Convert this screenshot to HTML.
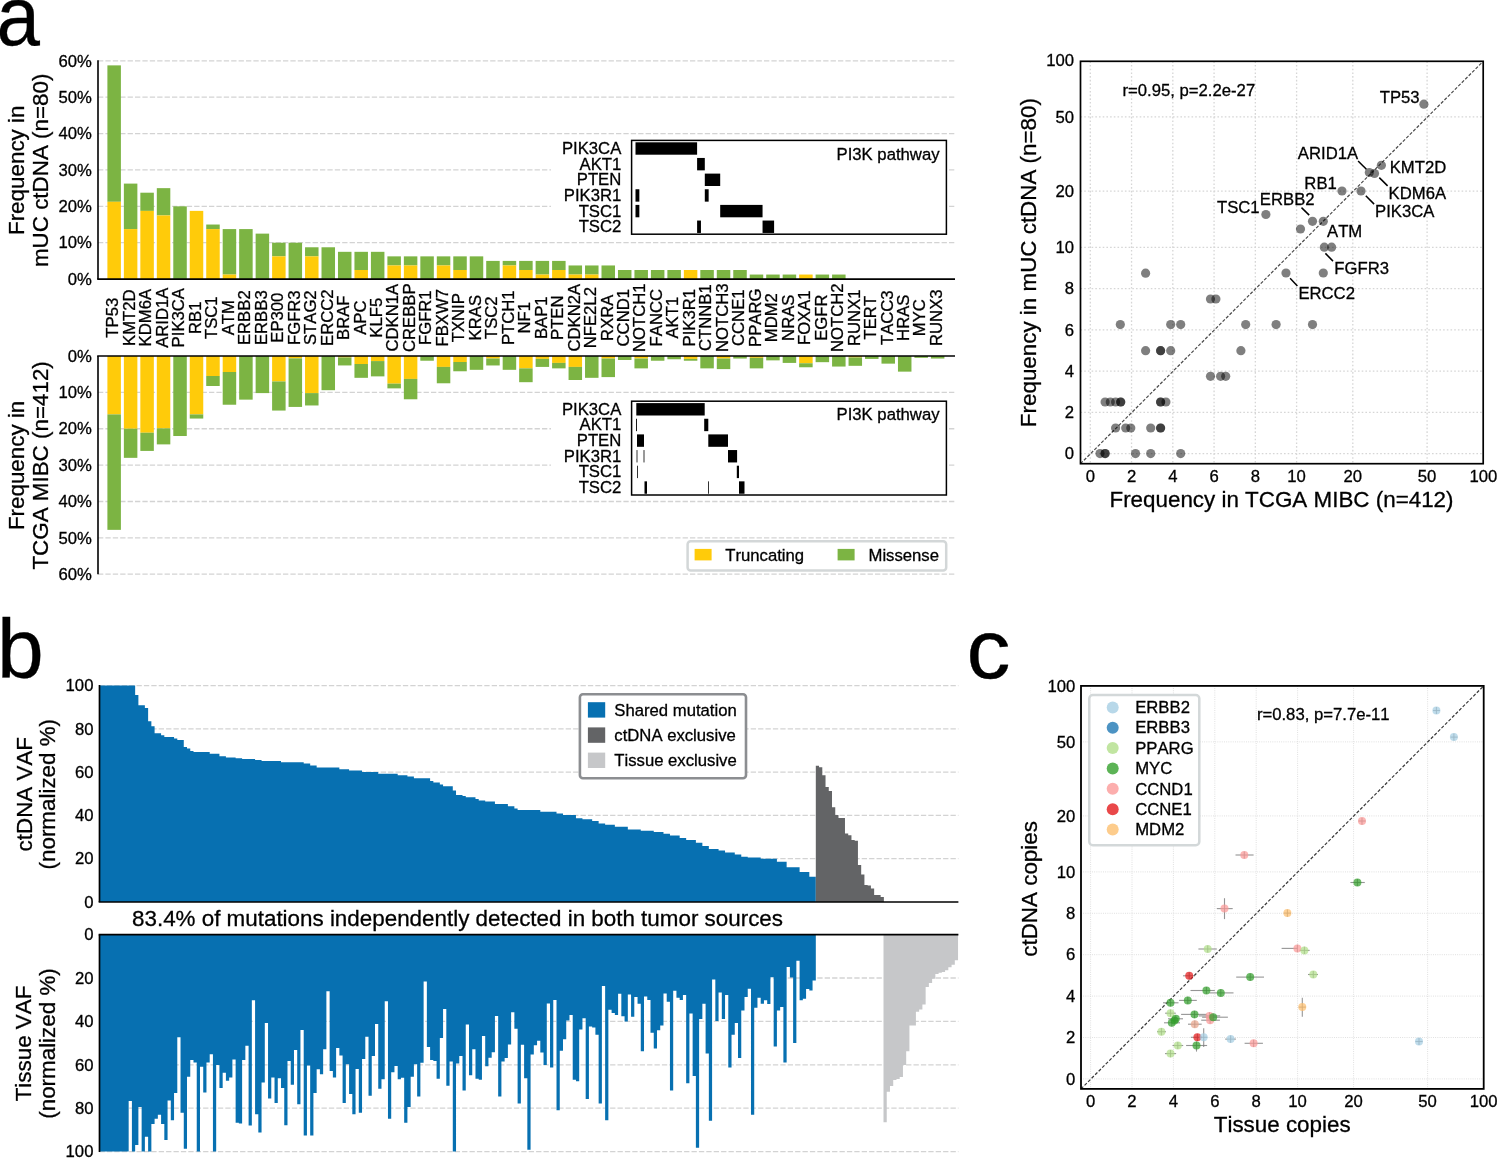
<!DOCTYPE html>
<html><head><meta charset="utf-8"><style>html,body{margin:0;padding:0;background:#fff;overflow:hidden;}svg{display:block;will-change:transform;}text{font-family:"Liberation Sans",sans-serif;font-kerning:none;stroke:#000;stroke-width:0.3px;}</style></head><body>
<svg width="1497" height="1158" viewBox="0 0 1497 1158" font-family='"Liberation Sans", sans-serif'><text transform="translate(-3.6,45) scale(0.93,1)" font-size="84">a</text>
<line x1="98" y1="242.72" x2="955" y2="242.72" stroke="#d3d3d3" stroke-width="1.3" stroke-dasharray="5.3 2.1"/>
<line x1="98" y1="206.34" x2="955" y2="206.34" stroke="#d3d3d3" stroke-width="1.3" stroke-dasharray="5.3 2.1"/>
<line x1="98" y1="169.96" x2="955" y2="169.96" stroke="#d3d3d3" stroke-width="1.3" stroke-dasharray="5.3 2.1"/>
<line x1="98" y1="133.58" x2="955" y2="133.58" stroke="#d3d3d3" stroke-width="1.3" stroke-dasharray="5.3 2.1"/>
<line x1="98" y1="97.2" x2="955" y2="97.2" stroke="#d3d3d3" stroke-width="1.3" stroke-dasharray="5.3 2.1"/>
<line x1="98" y1="60.82" x2="955" y2="60.82" stroke="#d3d3d3" stroke-width="1.3" stroke-dasharray="5.3 2.1"/>
<text x="91.8" y="284.85" font-size="16.7" text-anchor="end" fill="#000">0%</text>
<text x="91.8" y="248.47" font-size="16.7" text-anchor="end" fill="#000">10%</text>
<text x="91.8" y="212.09" font-size="16.7" text-anchor="end" fill="#000">20%</text>
<text x="91.8" y="175.71" font-size="16.7" text-anchor="end" fill="#000">30%</text>
<text x="91.8" y="139.33" font-size="16.7" text-anchor="end" fill="#000">40%</text>
<text x="91.8" y="102.95" font-size="16.7" text-anchor="end" fill="#000">50%</text>
<text x="91.8" y="66.57" font-size="16.7" text-anchor="end" fill="#000">60%</text>
<rect x="107.4" y="65.37" width="13.5" height="136.43" fill="#7cb443"/>
<rect x="107.4" y="201.79" width="13.5" height="77.31" fill="#ffcb0a"/>
<rect x="123.87" y="183.6" width="13.5" height="45.48" fill="#7cb443"/>
<rect x="123.87" y="229.08" width="13.5" height="50.02" fill="#ffcb0a"/>
<rect x="140.34" y="192.7" width="13.5" height="18.19" fill="#7cb443"/>
<rect x="140.34" y="210.89" width="13.5" height="68.21" fill="#ffcb0a"/>
<rect x="156.81" y="188.15" width="13.5" height="27.28" fill="#7cb443"/>
<rect x="156.81" y="215.44" width="13.5" height="63.67" fill="#ffcb0a"/>
<rect x="173.28" y="206.34" width="13.5" height="72.76" fill="#7cb443"/>
<rect x="189.75" y="210.89" width="13.5" height="68.21" fill="#ffcb0a"/>
<rect x="206.22" y="224.53" width="13.5" height="4.55" fill="#7cb443"/>
<rect x="206.22" y="229.08" width="13.5" height="50.02" fill="#ffcb0a"/>
<rect x="222.69" y="229.08" width="13.5" height="45.48" fill="#7cb443"/>
<rect x="222.69" y="274.55" width="13.5" height="4.55" fill="#ffcb0a"/>
<rect x="239.16" y="229.08" width="13.5" height="50.02" fill="#7cb443"/>
<rect x="255.63" y="233.63" width="13.5" height="45.48" fill="#7cb443"/>
<rect x="272.1" y="242.72" width="13.5" height="13.64" fill="#7cb443"/>
<rect x="272.1" y="256.36" width="13.5" height="22.74" fill="#ffcb0a"/>
<rect x="288.57" y="242.72" width="13.5" height="36.38" fill="#7cb443"/>
<rect x="305.04" y="247.27" width="13.5" height="9.1" fill="#7cb443"/>
<rect x="305.04" y="256.36" width="13.5" height="22.74" fill="#ffcb0a"/>
<rect x="321.51" y="247.27" width="13.5" height="31.83" fill="#7cb443"/>
<rect x="337.98" y="251.82" width="13.5" height="27.29" fill="#7cb443"/>
<rect x="354.45" y="251.82" width="13.5" height="18.19" fill="#7cb443"/>
<rect x="354.45" y="270" width="13.5" height="9.1" fill="#ffcb0a"/>
<rect x="370.92" y="251.82" width="13.5" height="27.29" fill="#7cb443"/>
<rect x="387.39" y="256.36" width="13.5" height="9.09" fill="#7cb443"/>
<rect x="387.39" y="265.46" width="13.5" height="13.64" fill="#ffcb0a"/>
<rect x="403.86" y="256.36" width="13.5" height="9.09" fill="#7cb443"/>
<rect x="403.86" y="265.46" width="13.5" height="13.64" fill="#ffcb0a"/>
<rect x="420.33" y="256.36" width="13.5" height="22.74" fill="#7cb443"/>
<rect x="436.8" y="256.36" width="13.5" height="9.09" fill="#7cb443"/>
<rect x="436.8" y="265.46" width="13.5" height="13.64" fill="#ffcb0a"/>
<rect x="453.27" y="256.36" width="13.5" height="13.64" fill="#7cb443"/>
<rect x="453.27" y="270" width="13.5" height="9.1" fill="#ffcb0a"/>
<rect x="469.74" y="256.36" width="13.5" height="22.74" fill="#7cb443"/>
<rect x="486.21" y="260.91" width="13.5" height="18.19" fill="#7cb443"/>
<rect x="502.68" y="260.91" width="13.5" height="4.55" fill="#7cb443"/>
<rect x="502.68" y="265.46" width="13.5" height="13.64" fill="#ffcb0a"/>
<rect x="519.15" y="260.91" width="13.5" height="9.1" fill="#7cb443"/>
<rect x="519.15" y="270" width="13.5" height="9.1" fill="#ffcb0a"/>
<rect x="535.62" y="260.91" width="13.5" height="13.64" fill="#7cb443"/>
<rect x="535.62" y="274.55" width="13.5" height="4.55" fill="#ffcb0a"/>
<rect x="552.09" y="260.91" width="13.5" height="9.1" fill="#7cb443"/>
<rect x="552.09" y="270" width="13.5" height="9.1" fill="#ffcb0a"/>
<rect x="568.56" y="265.46" width="13.5" height="9.1" fill="#7cb443"/>
<rect x="568.56" y="274.55" width="13.5" height="4.55" fill="#ffcb0a"/>
<rect x="585.03" y="265.46" width="13.5" height="9.1" fill="#7cb443"/>
<rect x="585.03" y="274.55" width="13.5" height="4.55" fill="#ffcb0a"/>
<rect x="601.5" y="265.46" width="13.5" height="13.64" fill="#7cb443"/>
<rect x="617.97" y="270" width="13.5" height="9.1" fill="#7cb443"/>
<rect x="634.44" y="270" width="13.5" height="9.1" fill="#7cb443"/>
<rect x="650.91" y="270" width="13.5" height="9.1" fill="#7cb443"/>
<rect x="667.38" y="270" width="13.5" height="9.1" fill="#7cb443"/>
<rect x="683.85" y="270" width="13.5" height="9.1" fill="#ffcb0a"/>
<rect x="700.32" y="270" width="13.5" height="9.1" fill="#7cb443"/>
<rect x="716.79" y="270" width="13.5" height="9.1" fill="#7cb443"/>
<rect x="733.26" y="270" width="13.5" height="9.1" fill="#7cb443"/>
<rect x="749.73" y="274.55" width="13.5" height="4.55" fill="#7cb443"/>
<rect x="766.2" y="274.55" width="13.5" height="4.55" fill="#7cb443"/>
<rect x="782.67" y="274.55" width="13.5" height="4.55" fill="#7cb443"/>
<rect x="799.14" y="274.55" width="13.5" height="4.55" fill="#ffcb0a"/>
<rect x="815.61" y="274.55" width="13.5" height="4.55" fill="#7cb443"/>
<rect x="832.08" y="274.55" width="13.5" height="4.55" fill="#7cb443"/>
<text transform="translate(23.5,170.3) rotate(-90)" font-size="22.4" text-anchor="middle" fill="#000">Frequency in</text>
<text transform="translate(48.1,170.3) rotate(-90)" font-size="22.4" text-anchor="middle" fill="#000">mUC ctDNA (n=80)</text>
<line x1="98" y1="392.37" x2="955" y2="392.37" stroke="#d3d3d3" stroke-width="1.3" stroke-dasharray="5.3 2.1"/>
<line x1="98" y1="428.74" x2="955" y2="428.74" stroke="#d3d3d3" stroke-width="1.3" stroke-dasharray="5.3 2.1"/>
<line x1="98" y1="465.11" x2="955" y2="465.11" stroke="#d3d3d3" stroke-width="1.3" stroke-dasharray="5.3 2.1"/>
<line x1="98" y1="501.48" x2="955" y2="501.48" stroke="#d3d3d3" stroke-width="1.3" stroke-dasharray="5.3 2.1"/>
<line x1="98" y1="537.85" x2="955" y2="537.85" stroke="#d3d3d3" stroke-width="1.3" stroke-dasharray="5.3 2.1"/>
<line x1="98" y1="574.22" x2="955" y2="574.22" stroke="#d3d3d3" stroke-width="1.3" stroke-dasharray="5.3 2.1"/>
<text x="91.8" y="361.75" font-size="16.7" text-anchor="end" fill="#000">0%</text>
<text x="91.8" y="398.12" font-size="16.7" text-anchor="end" fill="#000">10%</text>
<text x="91.8" y="434.49" font-size="16.7" text-anchor="end" fill="#000">20%</text>
<text x="91.8" y="470.86" font-size="16.7" text-anchor="end" fill="#000">30%</text>
<text x="91.8" y="507.23" font-size="16.7" text-anchor="end" fill="#000">40%</text>
<text x="91.8" y="543.6" font-size="16.7" text-anchor="end" fill="#000">50%</text>
<text x="91.8" y="579.97" font-size="16.7" text-anchor="end" fill="#000">60%</text>
<rect x="107.4" y="356" width="13.5" height="58.41" fill="#ffcb0a"/>
<rect x="107.4" y="414.41" width="13.5" height="115.44" fill="#7cb443"/>
<rect x="123.87" y="356" width="13.5" height="72.74" fill="#ffcb0a"/>
<rect x="123.87" y="428.74" width="13.5" height="29.1" fill="#7cb443"/>
<rect x="140.34" y="356" width="13.5" height="76.74" fill="#ffcb0a"/>
<rect x="140.34" y="432.74" width="13.5" height="18.18" fill="#7cb443"/>
<rect x="156.81" y="356" width="13.5" height="72.38" fill="#ffcb0a"/>
<rect x="156.81" y="428.38" width="13.5" height="16" fill="#7cb443"/>
<rect x="173.28" y="356" width="13.5" height="80.01" fill="#7cb443"/>
<rect x="189.75" y="356" width="13.5" height="58.41" fill="#ffcb0a"/>
<rect x="189.75" y="414.41" width="13.5" height="4.15" fill="#7cb443"/>
<rect x="206.22" y="356" width="13.5" height="20" fill="#ffcb0a"/>
<rect x="206.22" y="376" width="13.5" height="10" fill="#7cb443"/>
<rect x="222.69" y="356" width="13.5" height="16" fill="#ffcb0a"/>
<rect x="222.69" y="372" width="13.5" height="32.73" fill="#7cb443"/>
<rect x="239.16" y="356" width="13.5" height="43.64" fill="#7cb443"/>
<rect x="255.63" y="356" width="13.5" height="37.1" fill="#7cb443"/>
<rect x="272.1" y="356" width="13.5" height="25.46" fill="#ffcb0a"/>
<rect x="272.1" y="381.46" width="13.5" height="29.1" fill="#7cb443"/>
<rect x="288.57" y="356" width="13.5" height="2.4" fill="#ffcb0a"/>
<rect x="288.57" y="358.4" width="13.5" height="48.52" fill="#7cb443"/>
<rect x="305.04" y="356" width="13.5" height="37.1" fill="#ffcb0a"/>
<rect x="305.04" y="393.1" width="13.5" height="12.37" fill="#7cb443"/>
<rect x="321.51" y="356" width="13.5" height="34.19" fill="#7cb443"/>
<rect x="337.98" y="356" width="13.5" height="1.45" fill="#ffcb0a"/>
<rect x="337.98" y="357.45" width="13.5" height="8" fill="#7cb443"/>
<rect x="354.45" y="356" width="13.5" height="8" fill="#ffcb0a"/>
<rect x="354.45" y="364" width="13.5" height="13.82" fill="#7cb443"/>
<rect x="370.92" y="356" width="13.5" height="5.09" fill="#ffcb0a"/>
<rect x="370.92" y="361.09" width="13.5" height="15.28" fill="#7cb443"/>
<rect x="387.39" y="356" width="13.5" height="27.64" fill="#ffcb0a"/>
<rect x="387.39" y="383.64" width="13.5" height="4.73" fill="#7cb443"/>
<rect x="403.86" y="356" width="13.5" height="22.91" fill="#ffcb0a"/>
<rect x="403.86" y="378.91" width="13.5" height="20.37" fill="#7cb443"/>
<rect x="420.33" y="356" width="13.5" height="4.73" fill="#7cb443"/>
<rect x="436.8" y="356" width="13.5" height="10.91" fill="#ffcb0a"/>
<rect x="436.8" y="366.91" width="13.5" height="16.37" fill="#7cb443"/>
<rect x="453.27" y="356" width="13.5" height="6" fill="#ffcb0a"/>
<rect x="453.27" y="362" width="13.5" height="9.27" fill="#7cb443"/>
<rect x="469.74" y="356" width="13.5" height="13.82" fill="#7cb443"/>
<rect x="486.21" y="356" width="13.5" height="2.55" fill="#ffcb0a"/>
<rect x="486.21" y="358.55" width="13.5" height="6.91" fill="#7cb443"/>
<rect x="502.68" y="356" width="13.5" height="13.82" fill="#7cb443"/>
<rect x="519.15" y="356" width="13.5" height="12.37" fill="#ffcb0a"/>
<rect x="519.15" y="368.37" width="13.5" height="13.82" fill="#7cb443"/>
<rect x="535.62" y="356" width="13.5" height="2.91" fill="#ffcb0a"/>
<rect x="535.62" y="358.91" width="13.5" height="8" fill="#7cb443"/>
<rect x="552.09" y="356" width="13.5" height="6.91" fill="#ffcb0a"/>
<rect x="552.09" y="362.91" width="13.5" height="5.46" fill="#7cb443"/>
<rect x="568.56" y="356" width="13.5" height="10.91" fill="#ffcb0a"/>
<rect x="568.56" y="366.91" width="13.5" height="13.09" fill="#7cb443"/>
<rect x="585.03" y="356" width="13.5" height="21.82" fill="#7cb443"/>
<rect x="601.5" y="356" width="13.5" height="2.55" fill="#ffcb0a"/>
<rect x="601.5" y="358.55" width="13.5" height="18.55" fill="#7cb443"/>
<rect x="617.97" y="356" width="13.5" height="4" fill="#7cb443"/>
<rect x="634.44" y="356" width="13.5" height="2.55" fill="#ffcb0a"/>
<rect x="634.44" y="358.55" width="13.5" height="9.82" fill="#7cb443"/>
<rect x="650.91" y="356" width="13.5" height="4.73" fill="#7cb443"/>
<rect x="667.38" y="356" width="13.5" height="3.27" fill="#7cb443"/>
<rect x="683.85" y="356" width="13.5" height="2.91" fill="#ffcb0a"/>
<rect x="683.85" y="358.91" width="13.5" height="1.82" fill="#7cb443"/>
<rect x="700.32" y="356" width="13.5" height="12.37" fill="#7cb443"/>
<rect x="716.79" y="356" width="13.5" height="2.55" fill="#ffcb0a"/>
<rect x="716.79" y="358.55" width="13.5" height="10.55" fill="#7cb443"/>
<rect x="733.26" y="356" width="13.5" height="2.55" fill="#7cb443"/>
<rect x="749.73" y="356" width="13.5" height="1.82" fill="#ffcb0a"/>
<rect x="749.73" y="357.82" width="13.5" height="10.55" fill="#7cb443"/>
<rect x="766.2" y="356" width="13.5" height="4.36" fill="#7cb443"/>
<rect x="782.67" y="356" width="13.5" height="6.91" fill="#7cb443"/>
<rect x="799.14" y="356" width="13.5" height="7.27" fill="#ffcb0a"/>
<rect x="799.14" y="363.27" width="13.5" height="4" fill="#7cb443"/>
<rect x="815.61" y="356" width="13.5" height="6.18" fill="#7cb443"/>
<rect x="832.08" y="356" width="13.5" height="10.55" fill="#7cb443"/>
<rect x="848.55" y="356" width="13.5" height="1.45" fill="#ffcb0a"/>
<rect x="848.55" y="357.45" width="13.5" height="8.37" fill="#7cb443"/>
<rect x="865.02" y="356" width="13.5" height="2.91" fill="#7cb443"/>
<rect x="881.49" y="356" width="13.5" height="7.64" fill="#7cb443"/>
<rect x="897.96" y="356" width="13.5" height="15.64" fill="#7cb443"/>
<rect x="914.43" y="356" width="13.5" height="1.82" fill="#7cb443"/>
<rect x="930.9" y="356" width="13.5" height="2.55" fill="#7cb443"/>
<text transform="translate(23.6,465.4) rotate(-90)" font-size="22.4" text-anchor="middle" fill="#000">Frequency in</text>
<text transform="translate(48,465.4) rotate(-90)" font-size="22.4" text-anchor="middle" fill="#000">TCGA MIBC (n=412)</text>
<line x1="98" y1="60.3" x2="98" y2="279.1" stroke="#000" stroke-width="1.6"/>
<line x1="97.2" y1="279.1" x2="955" y2="279.1" stroke="#000" stroke-width="1.6"/>
<line x1="98" y1="356" x2="98" y2="574.22" stroke="#000" stroke-width="1.6"/>
<line x1="97.2" y1="356" x2="955" y2="356" stroke="#000" stroke-width="1.6"/>
<text transform="translate(118.45,317.7) rotate(-90)" font-size="16.7" text-anchor="middle" fill="#000">TP53</text>
<text transform="translate(134.92,317.7) rotate(-90)" font-size="16.7" text-anchor="middle" fill="#000">KMT2D</text>
<text transform="translate(151.39,317.7) rotate(-90)" font-size="16.7" text-anchor="middle" fill="#000">KDM6A</text>
<text transform="translate(167.86,317.7) rotate(-90)" font-size="16.7" text-anchor="middle" fill="#000">ARID1A</text>
<text transform="translate(184.33,317.7) rotate(-90)" font-size="16.7" text-anchor="middle" fill="#000">PIK3CA</text>
<text transform="translate(200.8,317.7) rotate(-90)" font-size="16.7" text-anchor="middle" fill="#000">RB1</text>
<text transform="translate(217.27,317.7) rotate(-90)" font-size="16.7" text-anchor="middle" fill="#000">TSC1</text>
<text transform="translate(233.74,317.7) rotate(-90)" font-size="16.7" text-anchor="middle" fill="#000">ATM</text>
<text transform="translate(250.21,317.7) rotate(-90)" font-size="16.7" text-anchor="middle" fill="#000">ERBB2</text>
<text transform="translate(266.68,317.7) rotate(-90)" font-size="16.7" text-anchor="middle" fill="#000">ERBB3</text>
<text transform="translate(283.15,317.7) rotate(-90)" font-size="16.7" text-anchor="middle" fill="#000">EP300</text>
<text transform="translate(299.62,317.7) rotate(-90)" font-size="16.7" text-anchor="middle" fill="#000">FGFR3</text>
<text transform="translate(316.09,317.7) rotate(-90)" font-size="16.7" text-anchor="middle" fill="#000">STAG2</text>
<text transform="translate(332.56,317.7) rotate(-90)" font-size="16.7" text-anchor="middle" fill="#000">ERCC2</text>
<text transform="translate(349.03,317.7) rotate(-90)" font-size="16.7" text-anchor="middle" fill="#000">BRAF</text>
<text transform="translate(365.5,317.7) rotate(-90)" font-size="16.7" text-anchor="middle" fill="#000">APC</text>
<text transform="translate(381.97,317.7) rotate(-90)" font-size="16.7" text-anchor="middle" fill="#000">KLF5</text>
<text transform="translate(398.44,317.7) rotate(-90)" font-size="16.7" text-anchor="middle" fill="#000">CDKN1A</text>
<text transform="translate(414.91,317.7) rotate(-90)" font-size="16.7" text-anchor="middle" fill="#000">CREBBP</text>
<text transform="translate(431.38,317.7) rotate(-90)" font-size="16.7" text-anchor="middle" fill="#000">FGFR1</text>
<text transform="translate(447.85,317.7) rotate(-90)" font-size="16.7" text-anchor="middle" fill="#000">FBXW7</text>
<text transform="translate(464.32,317.7) rotate(-90)" font-size="16.7" text-anchor="middle" fill="#000">TXNIP</text>
<text transform="translate(480.79,317.7) rotate(-90)" font-size="16.7" text-anchor="middle" fill="#000">KRAS</text>
<text transform="translate(497.26,317.7) rotate(-90)" font-size="16.7" text-anchor="middle" fill="#000">TSC2</text>
<text transform="translate(513.73,317.7) rotate(-90)" font-size="16.7" text-anchor="middle" fill="#000">PTCH1</text>
<text transform="translate(530.2,317.7) rotate(-90)" font-size="16.7" text-anchor="middle" fill="#000">NF1</text>
<text transform="translate(546.67,317.7) rotate(-90)" font-size="16.7" text-anchor="middle" fill="#000">BAP1</text>
<text transform="translate(563.14,317.7) rotate(-90)" font-size="16.7" text-anchor="middle" fill="#000">PTEN</text>
<text transform="translate(579.61,317.7) rotate(-90)" font-size="16.7" text-anchor="middle" fill="#000">CDKN2A</text>
<text transform="translate(596.08,317.7) rotate(-90)" font-size="16.7" text-anchor="middle" fill="#000">NFE2L2</text>
<text transform="translate(612.55,317.7) rotate(-90)" font-size="16.7" text-anchor="middle" fill="#000">RXRA</text>
<text transform="translate(629.02,317.7) rotate(-90)" font-size="16.7" text-anchor="middle" fill="#000">CCND1</text>
<text transform="translate(645.49,317.7) rotate(-90)" font-size="16.7" text-anchor="middle" fill="#000">NOTCH1</text>
<text transform="translate(661.96,317.7) rotate(-90)" font-size="16.7" text-anchor="middle" fill="#000">FANCC</text>
<text transform="translate(678.43,317.7) rotate(-90)" font-size="16.7" text-anchor="middle" fill="#000">AKT1</text>
<text transform="translate(694.9,317.7) rotate(-90)" font-size="16.7" text-anchor="middle" fill="#000">PIK3R1</text>
<text transform="translate(711.37,317.7) rotate(-90)" font-size="16.7" text-anchor="middle" fill="#000">CTNNB1</text>
<text transform="translate(727.84,317.7) rotate(-90)" font-size="16.7" text-anchor="middle" fill="#000">NOTCH3</text>
<text transform="translate(744.31,317.7) rotate(-90)" font-size="16.7" text-anchor="middle" fill="#000">CCNE1</text>
<text transform="translate(760.78,317.7) rotate(-90)" font-size="16.7" text-anchor="middle" fill="#000">PPARG</text>
<text transform="translate(777.25,317.7) rotate(-90)" font-size="16.7" text-anchor="middle" fill="#000">MDM2</text>
<text transform="translate(793.72,317.7) rotate(-90)" font-size="16.7" text-anchor="middle" fill="#000">NRAS</text>
<text transform="translate(810.19,317.7) rotate(-90)" font-size="16.7" text-anchor="middle" fill="#000">FOXA1</text>
<text transform="translate(826.66,317.7) rotate(-90)" font-size="16.7" text-anchor="middle" fill="#000">EGFR</text>
<text transform="translate(843.13,317.7) rotate(-90)" font-size="16.7" text-anchor="middle" fill="#000">NOTCH2</text>
<text transform="translate(859.6,317.7) rotate(-90)" font-size="16.7" text-anchor="middle" fill="#000">RUNX1</text>
<text transform="translate(876.07,317.7) rotate(-90)" font-size="16.7" text-anchor="middle" fill="#000">TERT</text>
<text transform="translate(892.54,317.7) rotate(-90)" font-size="16.7" text-anchor="middle" fill="#000">TACC3</text>
<text transform="translate(909.01,317.7) rotate(-90)" font-size="16.7" text-anchor="middle" fill="#000">HRAS</text>
<text transform="translate(925.48,317.7) rotate(-90)" font-size="16.7" text-anchor="middle" fill="#000">MYC</text>
<text transform="translate(941.95,317.7) rotate(-90)" font-size="16.7" text-anchor="middle" fill="#000">RUNX3</text>
<rect x="551" y="137.8" width="396" height="101" fill="#fff"/>
<text x="621.3" y="154" font-size="16.7" text-anchor="end" fill="#000">PIK3CA</text>
<text x="621.3" y="169.65" font-size="16.7" text-anchor="end" fill="#000">AKT1</text>
<text x="621.3" y="185.3" font-size="16.7" text-anchor="end" fill="#000">PTEN</text>
<text x="621.3" y="200.95" font-size="16.7" text-anchor="end" fill="#000">PIK3R1</text>
<text x="621.3" y="216.6" font-size="16.7" text-anchor="end" fill="#000">TSC1</text>
<text x="621.3" y="232.25" font-size="16.7" text-anchor="end" fill="#000">TSC2</text>
<rect x="635.5" y="142.3" width="61.6" height="12.4" fill="#000"/>
<rect x="697.1" y="157.95" width="7.7" height="12.4" fill="#000"/>
<rect x="704.8" y="173.6" width="15.4" height="12.4" fill="#000"/>
<rect x="635.5" y="189.25" width="3.85" height="12.4" fill="#000"/>
<rect x="704.8" y="189.25" width="3.85" height="12.4" fill="#000"/>
<rect x="635.5" y="204.9" width="3.85" height="12.4" fill="#000"/>
<rect x="720.2" y="204.9" width="42.35" height="12.4" fill="#000"/>
<rect x="697.1" y="220.55" width="3.85" height="12.4" fill="#000"/>
<rect x="762.55" y="220.55" width="11.55" height="12.4" fill="#000"/>
<rect x="631.6" y="140.4" width="314.8" height="93.8" fill="none" stroke="#000" stroke-width="1.5"/>
<text x="939.5" y="159.5" font-size="16.7" text-anchor="end" fill="#000">PI3K pathway</text>
<rect x="551" y="398.6" width="396" height="101" fill="#fff"/>
<text x="621.3" y="414.8" font-size="16.7" text-anchor="end" fill="#000">PIK3CA</text>
<text x="621.3" y="430.45" font-size="16.7" text-anchor="end" fill="#000">AKT1</text>
<text x="621.3" y="446.1" font-size="16.7" text-anchor="end" fill="#000">PTEN</text>
<text x="621.3" y="461.75" font-size="16.7" text-anchor="end" fill="#000">PIK3R1</text>
<text x="621.3" y="477.4" font-size="16.7" text-anchor="end" fill="#000">TSC1</text>
<text x="621.3" y="493.05" font-size="16.7" text-anchor="end" fill="#000">TSC2</text>
<rect x="636.3" y="403.1" width="68.4" height="12.4" fill="#000"/>
<rect x="636" y="418.75" width="0.9" height="12.4" fill="#000"/>
<rect x="704.2" y="418.75" width="4.1" height="12.4" fill="#000"/>
<rect x="637" y="434.4" width="7" height="12.4" fill="#000"/>
<rect x="708.3" y="434.4" width="19.7" height="12.4" fill="#000"/>
<rect x="636.6" y="450.05" width="0.8" height="12.4" fill="#000"/>
<rect x="643.6" y="450.05" width="0.8" height="12.4" fill="#000"/>
<rect x="728" y="450.05" width="9.1" height="12.4" fill="#000"/>
<rect x="637.2" y="465.7" width="0.8" height="12.4" fill="#000"/>
<rect x="736.8" y="465.7" width="2.2" height="12.4" fill="#000"/>
<rect x="644.5" y="481.35" width="2.5" height="12.4" fill="#000"/>
<rect x="708" y="481.35" width="0.8" height="12.4" fill="#000"/>
<rect x="739" y="481.35" width="5.5" height="12.4" fill="#000"/>
<rect x="631.6" y="401.2" width="314.8" height="93.8" fill="none" stroke="#000" stroke-width="1.5"/>
<text x="939.5" y="420.3" font-size="16.7" text-anchor="end" fill="#000">PI3K pathway</text>
<rect x="687.6" y="541.2" width="258.6" height="29.4" rx="3" fill="#fff" stroke="#d3d7d8" stroke-width="2.5"/>
<rect x="694.6" y="548.9" width="17" height="11.5" fill="#ffcb0a"/>
<text x="725.3" y="560.5" font-size="16.7" text-anchor="start" fill="#000">Truncating</text>
<rect x="837.6" y="548.9" width="17" height="11.5" fill="#7cb443"/>
<text x="868.5" y="560.5" font-size="16.7" text-anchor="start" fill="#000">Missense</text>
<line x1="1090.3" y1="61.3" x2="1090.3" y2="463.7" stroke="#d6d6d6" stroke-width="1.3" stroke-dasharray="1.6 2.1"/>
<line x1="1080.5" y1="453.6" x2="1483.2" y2="453.6" stroke="#d6d6d6" stroke-width="1.3" stroke-dasharray="1.6 2.1"/>
<line x1="1131.56" y1="61.3" x2="1131.56" y2="463.7" stroke="#d6d6d6" stroke-width="1.3" stroke-dasharray="1.6 2.1"/>
<line x1="1080.5" y1="412.34" x2="1483.2" y2="412.34" stroke="#d6d6d6" stroke-width="1.3" stroke-dasharray="1.6 2.1"/>
<line x1="1172.82" y1="61.3" x2="1172.82" y2="463.7" stroke="#d6d6d6" stroke-width="1.3" stroke-dasharray="1.6 2.1"/>
<line x1="1080.5" y1="371.08" x2="1483.2" y2="371.08" stroke="#d6d6d6" stroke-width="1.3" stroke-dasharray="1.6 2.1"/>
<line x1="1214.08" y1="61.3" x2="1214.08" y2="463.7" stroke="#d6d6d6" stroke-width="1.3" stroke-dasharray="1.6 2.1"/>
<line x1="1080.5" y1="329.82" x2="1483.2" y2="329.82" stroke="#d6d6d6" stroke-width="1.3" stroke-dasharray="1.6 2.1"/>
<line x1="1255.34" y1="61.3" x2="1255.34" y2="463.7" stroke="#d6d6d6" stroke-width="1.3" stroke-dasharray="1.6 2.1"/>
<line x1="1080.5" y1="288.56" x2="1483.2" y2="288.56" stroke="#d6d6d6" stroke-width="1.3" stroke-dasharray="1.6 2.1"/>
<line x1="1296.6" y1="61.3" x2="1296.6" y2="463.7" stroke="#d6d6d6" stroke-width="1.3" stroke-dasharray="1.6 2.1"/>
<line x1="1080.5" y1="247.3" x2="1483.2" y2="247.3" stroke="#d6d6d6" stroke-width="1.3" stroke-dasharray="1.6 2.1"/>
<line x1="1352.8" y1="61.3" x2="1352.8" y2="463.7" stroke="#d6d6d6" stroke-width="1.3" stroke-dasharray="1.6 2.1"/>
<line x1="1080.5" y1="191.1" x2="1483.2" y2="191.1" stroke="#d6d6d6" stroke-width="1.3" stroke-dasharray="1.6 2.1"/>
<line x1="1427.1" y1="61.3" x2="1427.1" y2="463.7" stroke="#d6d6d6" stroke-width="1.3" stroke-dasharray="1.6 2.1"/>
<line x1="1080.5" y1="116.8" x2="1483.2" y2="116.8" stroke="#d6d6d6" stroke-width="1.3" stroke-dasharray="1.6 2.1"/>
<line x1="1080.5" y1="463.7" x2="1483.2" y2="61.3" stroke="#4a4a4a" stroke-width="1.2" stroke-dasharray="3.2 1.7"/>
<circle cx="1423.9" cy="104.2" r="4.6" fill="#000" fill-opacity="0.5"/>
<circle cx="1381.4" cy="165.3" r="4.6" fill="#000" fill-opacity="0.5"/>
<circle cx="1369.3" cy="172.5" r="4.6" fill="#000" fill-opacity="0.5"/>
<circle cx="1374.5" cy="173.5" r="4.6" fill="#000" fill-opacity="0.5"/>
<circle cx="1342" cy="191" r="4.6" fill="#000" fill-opacity="0.5"/>
<circle cx="1361" cy="191" r="4.6" fill="#000" fill-opacity="0.5"/>
<circle cx="1265.9" cy="214.5" r="4.6" fill="#000" fill-opacity="0.5"/>
<circle cx="1312.5" cy="221.3" r="4.6" fill="#000" fill-opacity="0.5"/>
<circle cx="1323.3" cy="221.3" r="4.6" fill="#000" fill-opacity="0.5"/>
<circle cx="1300.5" cy="229" r="4.6" fill="#000" fill-opacity="0.5"/>
<circle cx="1324.3" cy="247.2" r="4.6" fill="#000" fill-opacity="0.5"/>
<circle cx="1331.6" cy="247.2" r="4.6" fill="#000" fill-opacity="0.5"/>
<circle cx="1323.3" cy="273" r="4.6" fill="#000" fill-opacity="0.5"/>
<circle cx="1286" cy="273" r="4.6" fill="#000" fill-opacity="0.5"/>
<circle cx="1145.6" cy="273.2" r="4.6" fill="#000" fill-opacity="0.5"/>
<circle cx="1210.5" cy="299" r="4.6" fill="#000" fill-opacity="0.5"/>
<circle cx="1215.9" cy="299" r="4.6" fill="#000" fill-opacity="0.5"/>
<circle cx="1120.3" cy="324.6" r="4.6" fill="#000" fill-opacity="0.5"/>
<circle cx="1170.7" cy="324.6" r="4.6" fill="#000" fill-opacity="0.5"/>
<circle cx="1180.7" cy="324.6" r="4.6" fill="#000" fill-opacity="0.5"/>
<circle cx="1245.7" cy="324.6" r="4.6" fill="#000" fill-opacity="0.5"/>
<circle cx="1276.1" cy="324.6" r="4.6" fill="#000" fill-opacity="0.5"/>
<circle cx="1312.5" cy="324.6" r="4.6" fill="#000" fill-opacity="0.5"/>
<circle cx="1145.6" cy="350.7" r="4.6" fill="#000" fill-opacity="0.5"/>
<circle cx="1160.6" cy="350.7" r="4.6" fill="#000" fill-opacity="0.5"/>
<circle cx="1160.6" cy="350.7" r="4.6" fill="#000" fill-opacity="0.5"/>
<circle cx="1170.7" cy="350.7" r="4.6" fill="#000" fill-opacity="0.5"/>
<circle cx="1240.9" cy="350.7" r="4.6" fill="#000" fill-opacity="0.5"/>
<circle cx="1210.5" cy="376.3" r="4.6" fill="#000" fill-opacity="0.5"/>
<circle cx="1220.6" cy="376.3" r="4.6" fill="#000" fill-opacity="0.5"/>
<circle cx="1225.7" cy="376.3" r="4.6" fill="#000" fill-opacity="0.5"/>
<circle cx="1105.1" cy="402" r="4.6" fill="#000" fill-opacity="0.5"/>
<circle cx="1110.3" cy="402" r="4.6" fill="#000" fill-opacity="0.5"/>
<circle cx="1115.6" cy="402" r="4.6" fill="#000" fill-opacity="0.5"/>
<circle cx="1120.7" cy="402" r="4.6" fill="#000" fill-opacity="0.5"/>
<circle cx="1120.7" cy="402" r="4.6" fill="#000" fill-opacity="0.5"/>
<circle cx="1160.6" cy="402" r="4.6" fill="#000" fill-opacity="0.5"/>
<circle cx="1160.6" cy="402" r="4.6" fill="#000" fill-opacity="0.5"/>
<circle cx="1165.9" cy="402" r="4.6" fill="#000" fill-opacity="0.5"/>
<circle cx="1115.6" cy="428" r="4.6" fill="#000" fill-opacity="0.5"/>
<circle cx="1125.7" cy="428" r="4.6" fill="#000" fill-opacity="0.5"/>
<circle cx="1130.8" cy="428" r="4.6" fill="#000" fill-opacity="0.5"/>
<circle cx="1150.7" cy="428" r="4.6" fill="#000" fill-opacity="0.5"/>
<circle cx="1160.6" cy="428" r="4.6" fill="#000" fill-opacity="0.5"/>
<circle cx="1160.6" cy="428" r="4.6" fill="#000" fill-opacity="0.5"/>
<circle cx="1100" cy="453.6" r="4.6" fill="#000" fill-opacity="0.5"/>
<circle cx="1105.1" cy="453.6" r="4.6" fill="#000" fill-opacity="0.5"/>
<circle cx="1105.1" cy="453.6" r="4.6" fill="#000" fill-opacity="0.5"/>
<circle cx="1135.5" cy="453.6" r="4.6" fill="#000" fill-opacity="0.5"/>
<circle cx="1150.7" cy="453.6" r="4.6" fill="#000" fill-opacity="0.5"/>
<circle cx="1180.7" cy="453.6" r="4.6" fill="#000" fill-opacity="0.5"/>
<text x="1419.6" y="102.5" font-size="16.7" text-anchor="end" fill="#000">TP53</text>
<text x="1389.7" y="173" font-size="16.7" text-anchor="start" fill="#000">KMT2D</text>
<text x="1358.1" y="158.5" font-size="16.7" text-anchor="end" fill="#000">ARID1A</text>
<text x="1388.6" y="198.5" font-size="16.7" text-anchor="start" fill="#000">KDM6A</text>
<text x="1336.8" y="189" font-size="16.7" text-anchor="end" fill="#000">RB1</text>
<text x="1375.1" y="216.5" font-size="16.7" text-anchor="start" fill="#000">PIK3CA</text>
<text x="1259.6" y="213.4" font-size="16.7" text-anchor="end" fill="#000">TSC1</text>
<text x="1314.6" y="205.1" font-size="16.7" text-anchor="end" fill="#000">ERBB2</text>
<text x="1327" y="237.2" font-size="16.7" text-anchor="start" fill="#000">ATM</text>
<text x="1334.3" y="274" font-size="16.7" text-anchor="start" fill="#000">FGFR3</text>
<text x="1298.4" y="299" font-size="16.7" text-anchor="start" fill="#000">ERCC2</text>
<line x1="1358.1" y1="161" x2="1366.4" y2="169.3" stroke="#000" stroke-width="1.5"/>
<line x1="1379.3" y1="177.6" x2="1387.6" y2="185.9" stroke="#000" stroke-width="1.5"/>
<line x1="1365.8" y1="195.8" x2="1374.1" y2="204.1" stroke="#000" stroke-width="1.5"/>
<line x1="1301.5" y1="207.6" x2="1309.2" y2="215.1" stroke="#000" stroke-width="1.5"/>
<line x1="1325.4" y1="253.4" x2="1333" y2="261.1" stroke="#000" stroke-width="1.5"/>
<line x1="1290.1" y1="278.3" x2="1297.4" y2="286" stroke="#000" stroke-width="1.5"/>
<text x="1122.5" y="95.9" font-size="16.7" text-anchor="start" fill="#000">r=0.95, p=2.2e-27</text>
<rect x="1080.5" y="61.3" width="402.7" height="402.4" fill="none" stroke="#000" stroke-width="1.7"/>
<text x="1090.3" y="482.25" font-size="16.7" text-anchor="middle" fill="#000">0</text>
<text x="1074" y="459.35" font-size="16.7" text-anchor="end" fill="#000">0</text>
<text x="1131.56" y="482.25" font-size="16.7" text-anchor="middle" fill="#000">2</text>
<text x="1074" y="418.09" font-size="16.7" text-anchor="end" fill="#000">2</text>
<text x="1172.82" y="482.25" font-size="16.7" text-anchor="middle" fill="#000">4</text>
<text x="1074" y="376.83" font-size="16.7" text-anchor="end" fill="#000">4</text>
<text x="1214.08" y="482.25" font-size="16.7" text-anchor="middle" fill="#000">6</text>
<text x="1074" y="335.57" font-size="16.7" text-anchor="end" fill="#000">6</text>
<text x="1255.34" y="482.25" font-size="16.7" text-anchor="middle" fill="#000">8</text>
<text x="1074" y="294.31" font-size="16.7" text-anchor="end" fill="#000">8</text>
<text x="1296.6" y="482.25" font-size="16.7" text-anchor="middle" fill="#000">10</text>
<text x="1074" y="253.05" font-size="16.7" text-anchor="end" fill="#000">10</text>
<text x="1352.8" y="482.25" font-size="16.7" text-anchor="middle" fill="#000">20</text>
<text x="1074" y="196.85" font-size="16.7" text-anchor="end" fill="#000">20</text>
<text x="1427.1" y="482.25" font-size="16.7" text-anchor="middle" fill="#000">50</text>
<text x="1074" y="122.55" font-size="16.7" text-anchor="end" fill="#000">50</text>
<text x="1483.3" y="482.25" font-size="16.7" text-anchor="middle" fill="#000">100</text>
<text x="1074" y="66.35" font-size="16.7" text-anchor="end" fill="#000">100</text>
<text x="1281.5" y="507" font-size="22.4" text-anchor="middle" fill="#000">Frequency in TCGA MIBC (n=412)</text>
<text transform="translate(1035.7,262.6) rotate(-90)" font-size="22.4" text-anchor="middle" fill="#000">Frequency in mUC ctDNA (n=80)</text>
<text x="-3.1" y="677.7" font-size="84" text-anchor="start" fill="#000">b</text>
<line x1="99.5" y1="858.72" x2="958.4" y2="858.72" stroke="#d3d3d3" stroke-width="1.3" stroke-dasharray="5.3 2.1"/>
<line x1="99.5" y1="815.44" x2="958.4" y2="815.44" stroke="#d3d3d3" stroke-width="1.3" stroke-dasharray="5.3 2.1"/>
<line x1="99.5" y1="772.16" x2="958.4" y2="772.16" stroke="#d3d3d3" stroke-width="1.3" stroke-dasharray="5.3 2.1"/>
<line x1="99.5" y1="728.88" x2="958.4" y2="728.88" stroke="#d3d3d3" stroke-width="1.3" stroke-dasharray="5.3 2.1"/>
<line x1="99.5" y1="685.6" x2="958.4" y2="685.6" stroke="#d3d3d3" stroke-width="1.3" stroke-dasharray="5.3 2.1"/>
<text x="93.45" y="907.75" font-size="16.7" text-anchor="end" fill="#000">0</text>
<text x="93.45" y="864.47" font-size="16.7" text-anchor="end" fill="#000">20</text>
<text x="93.45" y="821.19" font-size="16.7" text-anchor="end" fill="#000">40</text>
<text x="93.45" y="777.91" font-size="16.7" text-anchor="end" fill="#000">60</text>
<text x="93.45" y="734.63" font-size="16.7" text-anchor="end" fill="#000">80</text>
<text x="93.45" y="691.35" font-size="16.7" text-anchor="end" fill="#000">100</text>
<line x1="99.5" y1="978" x2="958.4" y2="978" stroke="#d3d3d3" stroke-width="1.3" stroke-dasharray="5.3 2.1"/>
<line x1="99.5" y1="1021.4" x2="958.4" y2="1021.4" stroke="#d3d3d3" stroke-width="1.3" stroke-dasharray="5.3 2.1"/>
<line x1="99.5" y1="1064.8" x2="958.4" y2="1064.8" stroke="#d3d3d3" stroke-width="1.3" stroke-dasharray="5.3 2.1"/>
<line x1="99.5" y1="1108.2" x2="958.4" y2="1108.2" stroke="#d3d3d3" stroke-width="1.3" stroke-dasharray="5.3 2.1"/>
<line x1="99.5" y1="1151.6" x2="958.4" y2="1151.6" stroke="#d3d3d3" stroke-width="1.3" stroke-dasharray="5.3 2.1"/>
<text x="93.45" y="940.35" font-size="16.7" text-anchor="end" fill="#000">0</text>
<text x="93.45" y="983.75" font-size="16.7" text-anchor="end" fill="#000">20</text>
<text x="93.45" y="1027.15" font-size="16.7" text-anchor="end" fill="#000">40</text>
<text x="93.45" y="1070.55" font-size="16.7" text-anchor="end" fill="#000">60</text>
<text x="93.45" y="1113.95" font-size="16.7" text-anchor="end" fill="#000">80</text>
<text x="93.45" y="1157.35" font-size="16.7" text-anchor="end" fill="#000">100</text>
<path d="M99.5,902 L99.5,685.6 L102.74,685.6 L102.74,685.6 L105.98,685.6 L105.98,685.6 L109.22,685.6 L109.22,685.6 L112.46,685.6 L112.46,685.6 L115.71,685.6 L115.71,685.6 L118.95,685.6 L118.95,685.6 L122.19,685.6 L122.19,685.6 L125.43,685.6 L125.43,685.6 L128.67,685.6 L128.67,685.6 L131.91,685.6 L131.91,685.6 L135.15,685.6 L135.15,694.9 L138.39,694.9 L138.39,705.2 L141.64,705.2 L141.64,705.2 L144.88,705.2 L144.88,708.1 L148.12,708.1 L148.12,721.2 L151.36,721.2 L151.36,726.2 L154.6,726.2 L154.6,733.2 L157.84,733.2 L157.84,733.2 L161.08,733.2 L161.08,735.3 L164.32,735.3 L164.32,736.9 L167.57,736.9 L167.57,736.9 L170.81,736.9 L170.81,736.9 L174.05,736.9 L174.05,738.5 L177.29,738.5 L177.29,740.1 L180.53,740.1 L180.53,740.1 L183.77,740.1 L183.77,746.9 L187.01,746.9 L187.01,748.6 L190.25,748.6 L190.25,751 L193.49,751 L193.49,752.1 L196.74,752.1 L196.74,752.1 L199.98,752.1 L199.98,752.1 L203.22,752.1 L203.22,752.1 L206.46,752.1 L206.46,752.1 L209.7,752.1 L209.7,753.7 L212.94,753.7 L212.94,753.7 L216.18,753.7 L216.18,753.7 L219.42,753.7 L219.42,756.2 L222.67,756.2 L222.67,756.2 L225.91,756.2 L225.91,757.4 L229.15,757.4 L229.15,757.4 L232.39,757.4 L232.39,757.4 L235.63,757.4 L235.63,758.2 L238.87,758.2 L238.87,758.2 L242.11,758.2 L242.11,759 L245.35,759 L245.35,759 L248.6,759 L248.6,759 L251.84,759 L251.84,759 L255.08,759 L255.08,760 L258.32,760 L258.32,760 L261.56,760 L261.56,761 L264.8,761 L264.8,761 L268.04,761 L268.04,761 L271.28,761 L271.28,761 L274.52,761 L274.52,761 L277.77,761 L277.77,761 L281.01,761 L281.01,762.2 L284.25,762.2 L284.25,762.2 L287.49,762.2 L287.49,762.2 L290.73,762.2 L290.73,762.2 L293.97,762.2 L293.97,762.2 L297.21,762.2 L297.21,762.2 L300.45,762.2 L300.45,762.2 L303.7,762.2 L303.7,763.4 L306.94,763.4 L306.94,763.4 L310.18,763.4 L310.18,765.5 L313.42,765.5 L313.42,765.5 L316.66,765.5 L316.66,767.4 L319.9,767.4 L319.9,767.4 L323.14,767.4 L323.14,767.4 L326.38,767.4 L326.38,767.4 L329.63,767.4 L329.63,767.4 L332.87,767.4 L332.87,767.4 L336.11,767.4 L336.11,767.6 L339.35,767.6 L339.35,769.3 L342.59,769.3 L342.59,769.3 L345.83,769.3 L345.83,769.3 L349.07,769.3 L349.07,770.5 L352.31,770.5 L352.31,770.5 L355.55,770.5 L355.55,770.5 L358.8,770.5 L358.8,770.5 L362.04,770.5 L362.04,772.1 L365.28,772.1 L365.28,772.1 L368.52,772.1 L368.52,772.1 L371.76,772.1 L371.76,772.1 L375,772.1 L375,772.1 L378.24,772.1 L378.24,773.7 L381.48,773.7 L381.48,773.7 L384.73,773.7 L384.73,773.7 L387.97,773.7 L387.97,773.7 L391.21,773.7 L391.21,773.7 L394.45,773.7 L394.45,773.7 L397.69,773.7 L397.69,775.3 L400.93,775.3 L400.93,775.3 L404.17,775.3 L404.17,775.3 L407.41,775.3 L407.41,776.6 L410.66,776.6 L410.66,776.6 L413.9,776.6 L413.9,778.2 L417.14,778.2 L417.14,778.2 L420.38,778.2 L420.38,778.2 L423.62,778.2 L423.62,778.2 L426.86,778.2 L426.86,778.2 L430.1,778.2 L430.1,780.9 L433.34,780.9 L433.34,782.5 L436.58,782.5 L436.58,782.5 L439.83,782.5 L439.83,784.6 L443.07,784.6 L443.07,786.2 L446.31,786.2 L446.31,786.2 L449.55,786.2 L449.55,786.2 L452.79,786.2 L452.79,790.5 L456.03,790.5 L456.03,795 L459.27,795 L459.27,795 L462.51,795 L462.51,796.1 L465.76,796.1 L465.76,797.2 L469,797.2 L469,797.2 L472.24,797.2 L472.24,797.2 L475.48,797.2 L475.48,799 L478.72,799 L478.72,800.6 L481.96,800.6 L481.96,800.6 L485.2,800.6 L485.2,801.4 L488.44,801.4 L488.44,801.4 L491.69,801.4 L491.69,801.4 L494.93,801.4 L494.93,804.1 L498.17,804.1 L498.17,804.1 L501.41,804.1 L501.41,804.1 L504.65,804.1 L504.65,804.1 L507.89,804.1 L507.89,806.2 L511.13,806.2 L511.13,806.2 L514.37,806.2 L514.37,808.6 L517.61,808.6 L517.61,810.1 L520.86,810.1 L520.86,810.1 L524.1,810.1 L524.1,810.1 L527.34,810.1 L527.34,810.1 L530.58,810.1 L530.58,810.1 L533.82,810.1 L533.82,810.1 L537.06,810.1 L537.06,810.1 L540.3,810.1 L540.3,811.7 L543.54,811.7 L543.54,811.7 L546.79,811.7 L546.79,811.7 L550.03,811.7 L550.03,811.7 L553.27,811.7 L553.27,811.7 L556.51,811.7 L556.51,813.4 L559.75,813.4 L559.75,813.4 L562.99,813.4 L562.99,814.9 L566.23,814.9 L566.23,814.9 L569.47,814.9 L569.47,814.9 L572.72,814.9 L572.72,814.9 L575.96,814.9 L575.96,818.3 L579.2,818.3 L579.2,818.3 L582.44,818.3 L582.44,819.2 L585.68,819.2 L585.68,819.2 L588.92,819.2 L588.92,819.2 L592.16,819.2 L592.16,820.9 L595.4,820.9 L595.4,820.9 L598.64,820.9 L598.64,823.4 L601.89,823.4 L601.89,823.4 L605.13,823.4 L605.13,824.8 L608.37,824.8 L608.37,824.8 L611.61,824.8 L611.61,824.8 L614.85,824.8 L614.85,826.8 L618.09,826.8 L618.09,826.8 L621.33,826.8 L621.33,826.8 L624.57,826.8 L624.57,826.8 L627.82,826.8 L627.82,829.4 L631.06,829.4 L631.06,829.4 L634.3,829.4 L634.3,829.4 L637.54,829.4 L637.54,829.4 L640.78,829.4 L640.78,830.8 L644.02,830.8 L644.02,830.8 L647.26,830.8 L647.26,830.8 L650.5,830.8 L650.5,830.8 L653.75,830.8 L653.75,832 L656.99,832 L656.99,832 L660.23,832 L660.23,832 L663.47,832 L663.47,833.7 L666.71,833.7 L666.71,833.7 L669.95,833.7 L669.95,835.4 L673.19,835.4 L673.19,835.4 L676.43,835.4 L676.43,835.4 L679.67,835.4 L679.67,837.9 L682.92,837.9 L682.92,837.9 L686.16,837.9 L686.16,840 L689.4,840 L689.4,840 L692.64,840 L692.64,840 L695.88,840 L695.88,842.7 L699.12,842.7 L699.12,842.7 L702.36,842.7 L702.36,846.1 L705.6,846.1 L705.6,846.1 L708.85,846.1 L708.85,849 L712.09,849 L712.09,849 L715.33,849 L715.33,849 L718.57,849 L718.57,850.4 L721.81,850.4 L721.81,850.4 L725.05,850.4 L725.05,852.4 L728.29,852.4 L728.29,852.4 L731.53,852.4 L731.53,852.4 L734.78,852.4 L734.78,854.6 L738.02,854.6 L738.02,854.6 L741.26,854.6 L741.26,856.7 L744.5,856.7 L744.5,856.7 L747.74,856.7 L747.74,857.5 L750.98,857.5 L750.98,857.5 L754.22,857.5 L754.22,857.5 L757.46,857.5 L757.46,857.5 L760.7,857.5 L760.7,858.7 L763.95,858.7 L763.95,858.7 L767.19,858.7 L767.19,858.7 L770.43,858.7 L770.43,858.7 L773.67,858.7 L773.67,858.7 L776.91,858.7 L776.91,861.8 L780.15,861.8 L780.15,861.8 L783.39,861.8 L783.39,861.8 L786.63,861.8 L786.63,867.2 L789.88,867.2 L789.88,867.2 L793.12,867.2 L793.12,867.2 L796.36,867.2 L796.36,867.2 L799.6,867.2 L799.6,872 L802.84,872 L802.84,872 L806.08,872 L806.08,872 L809.32,872 L809.32,876.8 L812.56,876.8 L812.56,876.8 L815.81,876.8 L815.81,902 Z" fill="#0770b1"/>
<path d="M815.81,902 L815.81,765.7 L819.05,765.7 L819.05,767.3 L822.29,767.3 L822.29,775.3 L825.53,775.3 L825.53,787.1 L828.77,787.1 L828.77,791 L832.01,791 L832.01,807.2 L835.25,807.2 L835.25,815 L838.49,815 L838.49,818.1 L841.73,818.1 L841.73,818.1 L844.98,818.1 L844.98,833.6 L848.22,833.6 L848.22,835.3 L851.46,835.3 L851.46,840.1 L854.7,840.1 L854.7,840.7 L857.94,840.7 L857.94,865.1 L861.18,865.1 L861.18,874.4 L864.42,874.4 L864.42,884.9 L867.66,884.9 L867.66,885.5 L870.91,885.5 L870.91,888.4 L874.15,888.4 L874.15,894.9 L877.39,894.9 L877.39,895.1 L880.63,895.1 L880.63,897.1 L883.87,897.1 L883.87,902 Z" fill="#636466"/>
<path d="M99.5,934.6 L99.5,1151.6 L102.74,1151.6 L102.74,1151.6 L105.98,1151.6 L105.98,1151.6 L109.22,1151.6 L109.22,1151.6 L112.46,1151.6 L112.46,1151.6 L115.71,1151.6 L115.71,1151.6 L118.95,1151.6 L118.95,1151.6 L122.19,1151.6 L122.19,1151.6 L125.43,1151.6 L125.43,1151.6 L128.67,1151.6 L128.67,1101.04 L131.91,1101.04 L131.91,1151.6 L135.15,1151.6 L135.15,1145.09 L138.39,1145.09 L138.39,1106.9 L141.64,1106.9 L141.64,1151.6 L144.88,1151.6 L144.88,1136.84 L148.12,1136.84 L148.12,1151.6 L151.36,1151.6 L151.36,1124.04 L154.6,1124.04 L154.6,1118.83 L157.84,1118.83 L157.84,1114.71 L161.08,1114.71 L161.08,1124.04 L164.32,1124.04 L164.32,1139.88 L167.57,1139.88 L167.57,1100.39 L170.81,1100.39 L170.81,1120.13 L174.05,1120.13 L174.05,1093.01 L177.29,1093.01 L177.29,1037.24 L180.53,1037.24 L180.53,1112.76 L183.77,1112.76 L183.77,1148.78 L187.01,1148.78 L187.01,1076.74 L190.25,1076.74 L190.25,1060.03 L193.49,1060.03 L193.49,1062.41 L196.74,1062.41 L196.74,1151.6 L199.98,1151.6 L199.98,1066.75 L203.22,1066.75 L203.22,1092.58 L206.46,1092.58 L206.46,1062.41 L209.7,1062.41 L209.7,1054.17 L212.94,1054.17 L212.94,1151.6 L216.18,1151.6 L216.18,1065.02 L219.42,1065.02 L219.42,1088.02 L222.67,1088.02 L222.67,1072.83 L225.91,1072.83 L225.91,1080.64 L229.15,1080.64 L229.15,1077.39 L232.39,1077.39 L232.39,1059.38 L235.63,1059.38 L235.63,1122.74 L238.87,1122.74 L238.87,1123.39 L242.11,1123.39 L242.11,1060.03 L245.35,1060.03 L245.35,1045.7 L248.6,1045.7 L248.6,1125.56 L251.84,1125.56 L251.84,1000.35 L255.08,1000.35 L255.08,1114.28 L258.32,1114.28 L258.32,1132.5 L261.56,1132.5 L261.56,1082.59 L264.8,1082.59 L264.8,1022.92 L268.04,1022.92 L268.04,1098.43 L271.28,1098.43 L271.28,1077.39 L274.52,1077.39 L274.52,1102.99 L277.77,1102.99 L277.77,1078.25 L281.01,1078.25 L281.01,1088.02 L284.25,1088.02 L284.25,1125.13 L287.49,1125.13 L287.49,1060.89 L290.73,1060.89 L290.73,1084.76 L293.97,1084.76 L293.97,1050.04 L297.21,1050.04 L297.21,1104.29 L300.45,1104.29 L300.45,1030.08 L303.7,1030.08 L303.7,1135.54 L306.94,1135.54 L306.94,1065.45 L310.18,1065.45 L310.18,1135.54 L313.42,1135.54 L313.42,1093.01 L316.66,1093.01 L316.66,1069.36 L319.9,1069.36 L319.9,1074.13 L323.14,1074.13 L323.14,1049.18 L326.38,1049.18 L326.38,991.24 L329.63,991.24 L329.63,1070.88 L332.87,1070.88 L332.87,1077.39 L336.11,1077.39 L336.11,1048.09 L339.35,1048.09 L339.35,1055.47 L342.59,1055.47 L342.59,1102.99 L345.83,1102.99 L345.83,1064.37 L349.07,1064.37 L349.07,1094.1 L352.31,1094.1 L352.31,1114.28 L355.55,1114.28 L355.55,1068.92 L358.8,1068.92 L358.8,1112.76 L362.04,1112.76 L362.04,1058.94 L365.28,1058.94 L365.28,1036.81 L368.52,1036.81 L368.52,1095.83 L371.76,1095.83 L371.76,1056.12 L375,1056.12 L375,1024 L378.24,1024 L378.24,1088.67 L381.48,1088.67 L381.48,1079.34 L384.73,1079.34 L384.73,1001.22 L387.97,1001.22 L387.97,1118.83 L391.21,1118.83 L391.21,1072.18 L394.45,1072.18 L394.45,1065.88 L397.69,1065.88 L397.69,1079.34 L400.93,1079.34 L400.93,1077.82 L404.17,1077.82 L404.17,1122.74 L407.41,1122.74 L407.41,1106.9 L410.66,1106.9 L410.66,1076.74 L413.9,1076.74 L413.9,1064.37 L417.14,1064.37 L417.14,1096.48 L420.38,1096.48 L420.38,1062.85 L423.62,1062.85 L423.62,981.47 L426.86,981.47 L426.86,1047.01 L430.1,1047.01 L430.1,1060.03 L433.34,1060.03 L433.34,1060.89 L436.58,1060.89 L436.58,1078.69 L439.83,1078.69 L439.83,1037.89 L443.07,1037.89 L443.07,1009.03 L446.31,1009.03 L446.31,1085.63 L449.55,1085.63 L449.55,1061.55 L452.79,1061.55 L452.79,1151.6 L456.03,1151.6 L456.03,1063.5 L459.27,1063.5 L459.27,1056.12 L462.51,1056.12 L462.51,1090.62 L465.76,1090.62 L465.76,1024.44 L469,1024.44 L469,1075.22 L472.24,1075.22 L472.24,1049.18 L475.48,1049.18 L475.48,1078.69 L478.72,1078.69 L478.72,1079.77 L481.96,1079.77 L481.96,1035.94 L485.2,1035.94 L485.2,1066.32 L488.44,1066.32 L488.44,1057.64 L491.69,1057.64 L491.69,1052.21 L494.93,1052.21 L494.93,1015.98 L498.17,1015.98 L498.17,1096.48 L501.41,1096.48 L501.41,1061.55 L504.65,1061.55 L504.65,1058.07 L507.89,1058.07 L507.89,1044.62 L511.13,1044.62 L511.13,1012.29 L514.37,1012.29 L514.37,1028.78 L517.61,1028.78 L517.61,1103.43 L520.86,1103.43 L520.86,1044.84 L524.1,1044.84 L524.1,1078.25 L527.34,1078.25 L527.34,1149.65 L530.58,1149.65 L530.58,1054.38 L533.82,1054.38 L533.82,1045.27 L537.06,1045.27 L537.06,1040.71 L540.3,1040.71 L540.3,1052.43 L543.54,1052.43 L543.54,1065.02 L546.79,1065.02 L546.79,1003.39 L550.03,1003.39 L550.03,1067.4 L553.27,1067.4 L553.27,999.92 L556.51,999.92 L556.51,1110.37 L559.75,1110.37 L559.75,1050.69 L562.99,1050.69 L562.99,1039.19 L566.23,1039.19 L566.23,1020.53 L569.47,1020.53 L569.47,1014.89 L572.72,1014.89 L572.72,1079.77 L575.96,1079.77 L575.96,1081.29 L579.2,1081.29 L579.2,1029.43 L582.44,1029.43 L582.44,1018.14 L585.68,1018.14 L585.68,1099.09 L588.92,1099.09 L588.92,1026.39 L592.16,1026.39 L592.16,1027.48 L595.4,1027.48 L595.4,1034.85 L598.64,1034.85 L598.64,1103.43 L601.89,1103.43 L601.89,986.03 L605.13,986.03 L605.13,1120.13 L608.37,1120.13 L608.37,1009.68 L611.61,1009.68 L611.61,1012.94 L614.85,1012.94 L614.85,1014.89 L618.09,1014.89 L618.09,993.84 L621.33,993.84 L621.33,1016.19 L624.57,1016.19 L624.57,1021.62 L627.82,1021.62 L627.82,994.49 L631.06,994.49 L631.06,1016.63 L634.3,1016.63 L634.3,996.88 L637.54,996.88 L637.54,1003.82 L640.78,1003.82 L640.78,1051.13 L644.02,1051.13 L644.02,996.45 L647.26,996.45 L647.26,999.92 L650.5,999.92 L650.5,1032.68 L653.75,1032.68 L653.75,1048.53 L656.99,1048.53 L656.99,1030.3 L660.23,1030.3 L660.23,1025.52 L663.47,1025.52 L663.47,993.41 L666.71,993.41 L666.71,1001.87 L669.95,1001.87 L669.95,1090.62 L673.19,1090.62 L673.19,990.8 L676.43,990.8 L676.43,997.75 L679.67,997.75 L679.67,999.92 L682.92,999.92 L682.92,994.93 L686.16,994.93 L686.16,1083.24 L689.4,1083.24 L689.4,1013.59 L692.64,1013.59 L692.64,1076.08 L695.88,1076.08 L695.88,1147.69 L699.12,1147.69 L699.12,1019.01 L702.36,1019.01 L702.36,1003.82 L705.6,1003.82 L705.6,1053.52 L708.85,1053.52 L708.85,1120.79 L712.09,1120.79 L712.09,979.52 L715.33,979.52 L715.33,1020.97 L718.57,1020.97 L718.57,992.54 L721.81,992.54 L721.81,1019.01 L725.05,1019.01 L725.05,994.93 L728.29,994.93 L728.29,1067.4 L731.53,1067.4 L731.53,1034.64 L734.78,1034.64 L734.78,1022.92 L738.02,1022.92 L738.02,1058.07 L741.26,1058.07 L741.26,1010.55 L744.5,1010.55 L744.5,996.88 L747.74,996.88 L747.74,988.63 L750.98,988.63 L750.98,1114.71 L754.22,1114.71 L754.22,1007.73 L757.46,1007.73 L757.46,997.75 L760.7,997.75 L760.7,1003.82 L763.95,1003.82 L763.95,1000.35 L767.19,1000.35 L767.19,1004.04 L770.43,1004.04 L770.43,977.13 L773.67,977.13 L773.67,1046.57 L776.91,1046.57 L776.91,1010.55 L780.15,1010.55 L780.15,1007.08 L783.39,1007.08 L783.39,1062.41 L786.63,1062.41 L786.63,966.93 L789.88,966.93 L789.88,977.57 L793.12,977.57 L793.12,1043.1 L796.36,1043.1 L796.36,960.86 L799.6,960.86 L799.6,1000.35 L802.84,1000.35 L802.84,998.83 L806.08,998.83 L806.08,989.07 L809.32,989.07 L809.32,990.59 L812.56,990.59 L812.56,980.6 L815.81,980.6 L815.81,934.6 Z" fill="#0770b1"/>
<path d="M883.5,934.6 L883.5,1122.31 L886.74,1122.31 L886.74,1091.71 L889.98,1091.71 L889.98,1086.07 L893.22,1086.07 L893.22,1079.99 L896.46,1079.99 L896.46,1079.12 L899.71,1079.12 L899.71,1076.95 L902.95,1076.95 L902.95,1065.02 L906.19,1065.02 L906.19,1051.35 L909.43,1051.35 L909.43,1025.52 L912.67,1025.52 L912.67,1025.52 L915.91,1025.52 L915.91,1011.85 L919.15,1011.85 L919.15,1009.47 L922.39,1009.47 L922.39,1004.47 L925.64,1004.47 L925.64,986.9 L928.88,986.9 L928.88,982.99 L932.12,982.99 L932.12,978.87 L935.36,978.87 L935.36,973.88 L938.6,973.88 L938.6,972.79 L941.84,972.79 L941.84,971.92 L945.08,971.92 L945.08,970.19 L948.32,970.19 L948.32,967.15 L951.57,967.15 L951.57,964.76 L954.81,964.76 L954.81,960.21 L958.05,960.21 L958.05,934.6 Z" fill="#c6c7c9"/>
<line x1="99.5" y1="685" x2="99.5" y2="902" stroke="#000" stroke-width="1.7"/>
<line x1="98.65" y1="902" x2="958.4" y2="902" stroke="#000" stroke-width="1.7"/>
<line x1="99.5" y1="934.6" x2="99.5" y2="1152" stroke="#000" stroke-width="1.7"/>
<line x1="98.65" y1="934.6" x2="958.4" y2="934.6" stroke="#000" stroke-width="1.7"/>
<text transform="translate(31.6,794.2) rotate(-90)" font-size="22.4" text-anchor="middle" fill="#000">ctDNA VAF</text>
<text transform="translate(55.3,794.2) rotate(-90)" font-size="22.4" text-anchor="middle" fill="#000">(normalized %)</text>
<text transform="translate(31.4,1043.5) rotate(-90)" font-size="22.4" text-anchor="middle" fill="#000">Tissue VAF</text>
<text transform="translate(55.3,1043.5) rotate(-90)" font-size="22.4" text-anchor="middle" fill="#000">(normalized %)</text>
<text x="457.5" y="926" font-size="22.4" text-anchor="middle" fill="#000">83.4% of mutations independently detected in both tumor sources</text>
<rect x="579.9" y="694.3" width="166.1" height="83.9" rx="3" fill="#fff" stroke="#8c8e91" stroke-width="2.6"/>
<rect x="587.9" y="702.2" width="17.3" height="15.4" fill="#0770b1"/>
<rect x="587.9" y="727.4" width="17.3" height="15.4" fill="#636466"/>
<rect x="587.9" y="752.6" width="17.3" height="15.4" fill="#c6c7c9"/>
<text x="614.3" y="716.3" font-size="16.7" text-anchor="start" fill="#000">Shared mutation</text>
<text x="614.3" y="741.3" font-size="16.7" text-anchor="start" fill="#000">ctDNA exclusive</text>
<text x="614.3" y="766.3" font-size="16.7" text-anchor="start" fill="#000">Tissue exclusive</text>
<text transform="translate(966.4,677.8) scale(1.047,1)" font-size="84">c</text>
<line x1="1090.6" y1="685.9" x2="1090.6" y2="1088.9" stroke="#d9d9d9" stroke-width="0.9" stroke-dasharray="0.9 1.3"/>
<line x1="1081" y1="1078.9" x2="1483.7" y2="1078.9" stroke="#d9d9d9" stroke-width="0.9" stroke-dasharray="0.9 1.3"/>
<line x1="1132" y1="685.9" x2="1132" y2="1088.9" stroke="#d9d9d9" stroke-width="0.9" stroke-dasharray="0.9 1.3"/>
<line x1="1081" y1="1037.5" x2="1483.7" y2="1037.5" stroke="#d9d9d9" stroke-width="0.9" stroke-dasharray="0.9 1.3"/>
<line x1="1173.4" y1="685.9" x2="1173.4" y2="1088.9" stroke="#d9d9d9" stroke-width="0.9" stroke-dasharray="0.9 1.3"/>
<line x1="1081" y1="996.1" x2="1483.7" y2="996.1" stroke="#d9d9d9" stroke-width="0.9" stroke-dasharray="0.9 1.3"/>
<line x1="1214.8" y1="685.9" x2="1214.8" y2="1088.9" stroke="#d9d9d9" stroke-width="0.9" stroke-dasharray="0.9 1.3"/>
<line x1="1081" y1="954.7" x2="1483.7" y2="954.7" stroke="#d9d9d9" stroke-width="0.9" stroke-dasharray="0.9 1.3"/>
<line x1="1256.2" y1="685.9" x2="1256.2" y2="1088.9" stroke="#d9d9d9" stroke-width="0.9" stroke-dasharray="0.9 1.3"/>
<line x1="1081" y1="913.3" x2="1483.7" y2="913.3" stroke="#d9d9d9" stroke-width="0.9" stroke-dasharray="0.9 1.3"/>
<line x1="1297.6" y1="685.9" x2="1297.6" y2="1088.9" stroke="#d9d9d9" stroke-width="0.9" stroke-dasharray="0.9 1.3"/>
<line x1="1081" y1="871.9" x2="1483.7" y2="871.9" stroke="#d9d9d9" stroke-width="0.9" stroke-dasharray="0.9 1.3"/>
<line x1="1353.59" y1="685.9" x2="1353.59" y2="1088.9" stroke="#d9d9d9" stroke-width="0.9" stroke-dasharray="0.9 1.3"/>
<line x1="1081" y1="815.91" x2="1483.7" y2="815.91" stroke="#d9d9d9" stroke-width="0.9" stroke-dasharray="0.9 1.3"/>
<line x1="1427.61" y1="685.9" x2="1427.61" y2="1088.9" stroke="#d9d9d9" stroke-width="0.9" stroke-dasharray="0.9 1.3"/>
<line x1="1081" y1="741.89" x2="1483.7" y2="741.89" stroke="#d9d9d9" stroke-width="0.9" stroke-dasharray="0.9 1.3"/>
<line x1="1081" y1="1088.9" x2="1483.7" y2="685.9" stroke="#3a3a3a" stroke-width="1.2" stroke-dasharray="3.2 1.8"/>
<line x1="1198.4" y1="949" x2="1216.8" y2="949" stroke="#7a7a7a" stroke-width="1.1" stroke-opacity="0.8"/>
<line x1="1207.7" y1="945.4" x2="1207.7" y2="952.6" stroke="#7a7a7a" stroke-width="1.1" stroke-opacity="0.8"/>
<line x1="1281.6" y1="948.4" x2="1297.4" y2="948.4" stroke="#7a7a7a" stroke-width="1.1" stroke-opacity="0.8"/>
<line x1="1297.4" y1="944.8" x2="1297.4" y2="952" stroke="#7a7a7a" stroke-width="1.1" stroke-opacity="0.8"/>
<line x1="1299.6" y1="950.4" x2="1309.6" y2="950.4" stroke="#7a7a7a" stroke-width="1.1" stroke-opacity="0.8"/>
<line x1="1304.4" y1="946.8" x2="1304.4" y2="954" stroke="#7a7a7a" stroke-width="1.1" stroke-opacity="0.8"/>
<line x1="1183" y1="975.8" x2="1195" y2="975.8" stroke="#7a7a7a" stroke-width="1.1" stroke-opacity="0.8"/>
<line x1="1189.2" y1="972.2" x2="1189.2" y2="979.4" stroke="#7a7a7a" stroke-width="1.1" stroke-opacity="0.8"/>
<line x1="1236.2" y1="977.1" x2="1264" y2="977.1" stroke="#7a7a7a" stroke-width="1.1" stroke-opacity="0.8"/>
<line x1="1250.2" y1="973.5" x2="1250.2" y2="980.7" stroke="#7a7a7a" stroke-width="1.1" stroke-opacity="0.8"/>
<line x1="1308" y1="974.5" x2="1318" y2="974.5" stroke="#7a7a7a" stroke-width="1.1" stroke-opacity="0.8"/>
<line x1="1313.3" y1="970.9" x2="1313.3" y2="978.1" stroke="#7a7a7a" stroke-width="1.1" stroke-opacity="0.8"/>
<line x1="1190.5" y1="990.5" x2="1214.8" y2="990.5" stroke="#7a7a7a" stroke-width="1.1" stroke-opacity="0.8"/>
<line x1="1206.4" y1="986.9" x2="1206.4" y2="994.1" stroke="#7a7a7a" stroke-width="1.1" stroke-opacity="0.8"/>
<line x1="1209.5" y1="992.9" x2="1233.5" y2="992.9" stroke="#7a7a7a" stroke-width="1.1" stroke-opacity="0.8"/>
<line x1="1220.8" y1="989.3" x2="1220.8" y2="996.5" stroke="#7a7a7a" stroke-width="1.1" stroke-opacity="0.8"/>
<line x1="1298.7" y1="1007.1" x2="1305.9" y2="1007.1" stroke="#7a7a7a" stroke-width="1.1" stroke-opacity="0.8"/>
<line x1="1302.3" y1="997.7" x2="1302.3" y2="1016.8" stroke="#7a7a7a" stroke-width="1.1" stroke-opacity="0.8"/>
<line x1="1163" y1="1002.8" x2="1178.5" y2="1002.8" stroke="#7a7a7a" stroke-width="1.1" stroke-opacity="0.8"/>
<line x1="1170.5" y1="999.2" x2="1170.5" y2="1006.4" stroke="#7a7a7a" stroke-width="1.1" stroke-opacity="0.8"/>
<line x1="1179.1" y1="1000.4" x2="1196.8" y2="1000.4" stroke="#7a7a7a" stroke-width="1.1" stroke-opacity="0.8"/>
<line x1="1187.8" y1="996.8" x2="1187.8" y2="1004" stroke="#7a7a7a" stroke-width="1.1" stroke-opacity="0.8"/>
<line x1="1165.1" y1="1013.2" x2="1175.8" y2="1013.2" stroke="#7a7a7a" stroke-width="1.1" stroke-opacity="0.8"/>
<line x1="1170.5" y1="1009.6" x2="1170.5" y2="1016.8" stroke="#7a7a7a" stroke-width="1.1" stroke-opacity="0.8"/>
<line x1="1181.1" y1="1014.4" x2="1206.8" y2="1014.4" stroke="#7a7a7a" stroke-width="1.1" stroke-opacity="0.8"/>
<line x1="1194.5" y1="1010.8" x2="1194.5" y2="1018" stroke="#7a7a7a" stroke-width="1.1" stroke-opacity="0.8"/>
<line x1="1198.8" y1="1015.9" x2="1220.2" y2="1015.9" stroke="#7a7a7a" stroke-width="1.1" stroke-opacity="0.8"/>
<line x1="1209.5" y1="1012.3" x2="1209.5" y2="1019.5" stroke="#7a7a7a" stroke-width="1.1" stroke-opacity="0.8"/>
<line x1="1201.2" y1="1020.2" x2="1219.9" y2="1020.2" stroke="#7a7a7a" stroke-width="1.1" stroke-opacity="0.8"/>
<line x1="1210.1" y1="1016.6" x2="1210.1" y2="1023.8" stroke="#7a7a7a" stroke-width="1.1" stroke-opacity="0.8"/>
<line x1="1202.1" y1="1017.2" x2="1227.9" y2="1017.2" stroke="#7a7a7a" stroke-width="1.1" stroke-opacity="0.8"/>
<line x1="1213.2" y1="1013.6" x2="1213.2" y2="1020.8" stroke="#7a7a7a" stroke-width="1.1" stroke-opacity="0.8"/>
<line x1="1168" y1="1018.8" x2="1183" y2="1018.8" stroke="#7a7a7a" stroke-width="1.1" stroke-opacity="0.8"/>
<line x1="1175.8" y1="1015.2" x2="1175.8" y2="1022.4" stroke="#7a7a7a" stroke-width="1.1" stroke-opacity="0.8"/>
<line x1="1164" y1="1022.8" x2="1180" y2="1022.8" stroke="#7a7a7a" stroke-width="1.1" stroke-opacity="0.8"/>
<line x1="1171.8" y1="1019.2" x2="1171.8" y2="1026.4" stroke="#7a7a7a" stroke-width="1.1" stroke-opacity="0.8"/>
<line x1="1170.9" y1="1020.5" x2="1178.1" y2="1020.5" stroke="#7a7a7a" stroke-width="1.1" stroke-opacity="0.8"/>
<line x1="1174.5" y1="1016.9" x2="1174.5" y2="1024.1" stroke="#7a7a7a" stroke-width="1.1" stroke-opacity="0.8"/>
<line x1="1188" y1="1024.2" x2="1201.7" y2="1024.2" stroke="#7a7a7a" stroke-width="1.1" stroke-opacity="0.8"/>
<line x1="1194.8" y1="1020.6" x2="1194.8" y2="1027.8" stroke="#7a7a7a" stroke-width="1.1" stroke-opacity="0.8"/>
<line x1="1157" y1="1031.7" x2="1166" y2="1031.7" stroke="#7a7a7a" stroke-width="1.1" stroke-opacity="0.8"/>
<line x1="1161.4" y1="1028.1" x2="1161.4" y2="1035.3" stroke="#7a7a7a" stroke-width="1.1" stroke-opacity="0.8"/>
<line x1="1190.8" y1="1037.3" x2="1201.5" y2="1037.3" stroke="#7a7a7a" stroke-width="1.1" stroke-opacity="0.8"/>
<line x1="1197.4" y1="1033.7" x2="1197.4" y2="1040.9" stroke="#7a7a7a" stroke-width="1.1" stroke-opacity="0.8"/>
<line x1="1200.1" y1="1037.3" x2="1207.3" y2="1037.3" stroke="#7a7a7a" stroke-width="1.1" stroke-opacity="0.8"/>
<line x1="1203.7" y1="1028.2" x2="1203.7" y2="1046.9" stroke="#7a7a7a" stroke-width="1.1" stroke-opacity="0.8"/>
<line x1="1225.2" y1="1039.1" x2="1235.9" y2="1039.1" stroke="#7a7a7a" stroke-width="1.1" stroke-opacity="0.8"/>
<line x1="1230.6" y1="1035.5" x2="1230.6" y2="1042.7" stroke="#7a7a7a" stroke-width="1.1" stroke-opacity="0.8"/>
<line x1="1244.6" y1="1043.3" x2="1262.9" y2="1043.3" stroke="#7a7a7a" stroke-width="1.1" stroke-opacity="0.8"/>
<line x1="1253.6" y1="1039.7" x2="1253.6" y2="1046.9" stroke="#7a7a7a" stroke-width="1.1" stroke-opacity="0.8"/>
<line x1="1172.5" y1="1045.5" x2="1183.2" y2="1045.5" stroke="#7a7a7a" stroke-width="1.1" stroke-opacity="0.8"/>
<line x1="1177.8" y1="1041.9" x2="1177.8" y2="1049.1" stroke="#7a7a7a" stroke-width="1.1" stroke-opacity="0.8"/>
<line x1="1186.1" y1="1045.5" x2="1207.1" y2="1045.5" stroke="#7a7a7a" stroke-width="1.1" stroke-opacity="0.8"/>
<line x1="1196.5" y1="1041.5" x2="1196.5" y2="1051.6" stroke="#7a7a7a" stroke-width="1.1" stroke-opacity="0.8"/>
<line x1="1165" y1="1053.6" x2="1176.1" y2="1053.6" stroke="#7a7a7a" stroke-width="1.1" stroke-opacity="0.8"/>
<line x1="1170.5" y1="1050" x2="1170.5" y2="1057.2" stroke="#7a7a7a" stroke-width="1.1" stroke-opacity="0.8"/>
<line x1="1433" y1="710.5" x2="1440" y2="710.5" stroke="#7a7a7a" stroke-width="1.1" stroke-opacity="0.8"/>
<line x1="1436.4" y1="707" x2="1436.4" y2="714" stroke="#7a7a7a" stroke-width="1.1" stroke-opacity="0.8"/>
<line x1="1450.5" y1="737.1" x2="1457.5" y2="737.1" stroke="#7a7a7a" stroke-width="1.1" stroke-opacity="0.8"/>
<line x1="1453.9" y1="733.5" x2="1453.9" y2="740.5" stroke="#7a7a7a" stroke-width="1.1" stroke-opacity="0.8"/>
<line x1="1358.4" y1="821" x2="1365.6" y2="821" stroke="#7a7a7a" stroke-width="1.1" stroke-opacity="0.8"/>
<line x1="1362" y1="817.7" x2="1362" y2="824.7" stroke="#7a7a7a" stroke-width="1.1" stroke-opacity="0.8"/>
<line x1="1235.5" y1="855" x2="1253.6" y2="855" stroke="#7a7a7a" stroke-width="1.1" stroke-opacity="0.8"/>
<line x1="1244.3" y1="851.4" x2="1244.3" y2="858.6" stroke="#7a7a7a" stroke-width="1.1" stroke-opacity="0.8"/>
<line x1="1350.4" y1="882.5" x2="1364.8" y2="882.5" stroke="#7a7a7a" stroke-width="1.1" stroke-opacity="0.8"/>
<line x1="1357.4" y1="878.9" x2="1357.4" y2="886.1" stroke="#7a7a7a" stroke-width="1.1" stroke-opacity="0.8"/>
<line x1="1216.8" y1="908.6" x2="1232.7" y2="908.6" stroke="#7a7a7a" stroke-width="1.1" stroke-opacity="0.8"/>
<line x1="1224.5" y1="898.2" x2="1224.5" y2="919.1" stroke="#7a7a7a" stroke-width="1.1" stroke-opacity="0.8"/>
<line x1="1283.8" y1="913.1" x2="1291" y2="913.1" stroke="#7a7a7a" stroke-width="1.1" stroke-opacity="0.8"/>
<line x1="1287.4" y1="909.5" x2="1287.4" y2="916.7" stroke="#7a7a7a" stroke-width="1.1" stroke-opacity="0.8"/>
<line x1="1415.4" y1="1041.5" x2="1422.6" y2="1041.5" stroke="#7a7a7a" stroke-width="1.1" stroke-opacity="0.8"/>
<line x1="1419" y1="1037.9" x2="1419" y2="1045.1" stroke="#7a7a7a" stroke-width="1.1" stroke-opacity="0.8"/>
<circle cx="1207.7" cy="949" r="4" fill="#b2df8a" fill-opacity="0.72"/>
<circle cx="1297.4" cy="948.4" r="4" fill="#fb9a99" fill-opacity="0.72"/>
<circle cx="1304.4" cy="950.4" r="4" fill="#b2df8a" fill-opacity="0.72"/>
<circle cx="1189.2" cy="975.8" r="4" fill="#e31a1c" fill-opacity="0.72"/>
<circle cx="1250.2" cy="977.1" r="4" fill="#33a02c" fill-opacity="0.72"/>
<circle cx="1313.3" cy="974.5" r="4" fill="#b2df8a" fill-opacity="0.72"/>
<circle cx="1206.4" cy="990.5" r="4" fill="#33a02c" fill-opacity="0.72"/>
<circle cx="1220.8" cy="992.9" r="4" fill="#33a02c" fill-opacity="0.72"/>
<circle cx="1302.3" cy="1007.1" r="4" fill="#fdbf6f" fill-opacity="0.72"/>
<circle cx="1170.5" cy="1002.8" r="4" fill="#33a02c" fill-opacity="0.72"/>
<circle cx="1187.8" cy="1000.4" r="4" fill="#33a02c" fill-opacity="0.72"/>
<circle cx="1170.5" cy="1013.2" r="4" fill="#b2df8a" fill-opacity="0.72"/>
<circle cx="1194.5" cy="1014.4" r="4" fill="#33a02c" fill-opacity="0.72"/>
<circle cx="1209.5" cy="1015.9" r="4" fill="#fb9a99" fill-opacity="0.72"/>
<circle cx="1210.1" cy="1020.2" r="4" fill="#fb9a99" fill-opacity="0.72"/>
<circle cx="1213.2" cy="1017.2" r="4" fill="#33a02c" fill-opacity="0.72"/>
<circle cx="1175.8" cy="1018.8" r="4" fill="#33a02c" fill-opacity="0.72"/>
<circle cx="1171.8" cy="1022.8" r="4" fill="#33a02c" fill-opacity="0.72"/>
<circle cx="1174.5" cy="1020.5" r="4" fill="#33a02c" fill-opacity="0.72"/>
<circle cx="1194.8" cy="1024.2" r="4" fill="#e8a58c" fill-opacity="0.72"/>
<circle cx="1161.4" cy="1031.7" r="4" fill="#b2df8a" fill-opacity="0.72"/>
<circle cx="1197.4" cy="1037.3" r="4" fill="#e31a1c" fill-opacity="0.72"/>
<circle cx="1203.7" cy="1037.3" r="4" fill="#a6cee3" fill-opacity="0.72"/>
<circle cx="1230.6" cy="1039.1" r="4" fill="#a6cee3" fill-opacity="0.72"/>
<circle cx="1253.6" cy="1043.3" r="4" fill="#fb9a99" fill-opacity="0.72"/>
<circle cx="1177.8" cy="1045.5" r="4" fill="#b2df8a" fill-opacity="0.72"/>
<circle cx="1196.5" cy="1045.5" r="4" fill="#33a02c" fill-opacity="0.72"/>
<circle cx="1170.5" cy="1053.6" r="4" fill="#b2df8a" fill-opacity="0.72"/>
<circle cx="1436.4" cy="710.5" r="4" fill="#a6cee3" fill-opacity="0.72"/>
<circle cx="1453.9" cy="737.1" r="4" fill="#a6cee3" fill-opacity="0.72"/>
<circle cx="1362" cy="821" r="4" fill="#fb9a99" fill-opacity="0.72"/>
<circle cx="1244.3" cy="855" r="4" fill="#fb9a99" fill-opacity="0.72"/>
<circle cx="1357.4" cy="882.5" r="4" fill="#33a02c" fill-opacity="0.72"/>
<circle cx="1224.5" cy="908.6" r="4" fill="#fb9a99" fill-opacity="0.72"/>
<circle cx="1287.4" cy="913.1" r="4" fill="#fdbf6f" fill-opacity="0.72"/>
<circle cx="1419" cy="1041.5" r="4" fill="#a6cee3" fill-opacity="0.72"/>
<rect x="1089.3" y="695" width="110" height="150.2" rx="3.5" fill="#fff" stroke="#d3d8d9" stroke-width="2.5"/>
<circle cx="1112.7" cy="707.4" r="6" fill="#a6cee3" fill-opacity="0.8"/>
<text x="1135.2" y="713.1" font-size="16.7" text-anchor="start" fill="#000">ERBB2</text>
<circle cx="1112.7" cy="727.75" r="6" fill="#1f78b4" fill-opacity="0.8"/>
<text x="1135.2" y="733.45" font-size="16.7" text-anchor="start" fill="#000">ERBB3</text>
<circle cx="1112.7" cy="748.1" r="6" fill="#b2df8a" fill-opacity="0.8"/>
<text x="1135.2" y="753.8" font-size="16.7" text-anchor="start" fill="#000">PPARG</text>
<circle cx="1112.7" cy="768.45" r="6" fill="#33a02c" fill-opacity="0.8"/>
<text x="1135.2" y="774.15" font-size="16.7" text-anchor="start" fill="#000">MYC</text>
<circle cx="1112.7" cy="788.8" r="6" fill="#fb9a99" fill-opacity="0.8"/>
<text x="1135.2" y="794.5" font-size="16.7" text-anchor="start" fill="#000">CCND1</text>
<circle cx="1112.7" cy="809.15" r="6" fill="#e31a1c" fill-opacity="0.8"/>
<text x="1135.2" y="814.85" font-size="16.7" text-anchor="start" fill="#000">CCNE1</text>
<circle cx="1112.7" cy="829.5" r="6" fill="#fdbf6f" fill-opacity="0.8"/>
<text x="1135.2" y="835.2" font-size="16.7" text-anchor="start" fill="#000">MDM2</text>
<text x="1256.9" y="720.3" font-size="16.7" text-anchor="start" fill="#000">r=0.83, p=7.7e-11</text>
<rect x="1081" y="685.9" width="402.7" height="403" fill="none" stroke="#000" stroke-width="1.8"/>
<text x="1090.6" y="1107.45" font-size="16.7" text-anchor="middle" fill="#000">0</text>
<text x="1075.4" y="1084.65" font-size="16.7" text-anchor="end" fill="#000">0</text>
<text x="1132" y="1107.45" font-size="16.7" text-anchor="middle" fill="#000">2</text>
<text x="1075.4" y="1043.25" font-size="16.7" text-anchor="end" fill="#000">2</text>
<text x="1173.4" y="1107.45" font-size="16.7" text-anchor="middle" fill="#000">4</text>
<text x="1075.4" y="1001.85" font-size="16.7" text-anchor="end" fill="#000">4</text>
<text x="1214.8" y="1107.45" font-size="16.7" text-anchor="middle" fill="#000">6</text>
<text x="1075.4" y="960.45" font-size="16.7" text-anchor="end" fill="#000">6</text>
<text x="1256.2" y="1107.45" font-size="16.7" text-anchor="middle" fill="#000">8</text>
<text x="1075.4" y="919.05" font-size="16.7" text-anchor="end" fill="#000">8</text>
<text x="1297.6" y="1107.45" font-size="16.7" text-anchor="middle" fill="#000">10</text>
<text x="1075.4" y="877.65" font-size="16.7" text-anchor="end" fill="#000">10</text>
<text x="1353.59" y="1107.45" font-size="16.7" text-anchor="middle" fill="#000">20</text>
<text x="1075.4" y="821.66" font-size="16.7" text-anchor="end" fill="#000">20</text>
<text x="1427.61" y="1107.45" font-size="16.7" text-anchor="middle" fill="#000">50</text>
<text x="1075.4" y="747.64" font-size="16.7" text-anchor="end" fill="#000">50</text>
<text x="1483.6" y="1107.45" font-size="16.7" text-anchor="middle" fill="#000">100</text>
<text x="1075.4" y="691.65" font-size="16.7" text-anchor="end" fill="#000">100</text>
<text x="1282.2" y="1132.1" font-size="22.4" text-anchor="middle" fill="#000">Tissue copies</text>
<text transform="translate(1037.1,888.9) rotate(-90)" font-size="22.4" text-anchor="middle" fill="#000">ctDNA copies</text></svg>
</body></html>
